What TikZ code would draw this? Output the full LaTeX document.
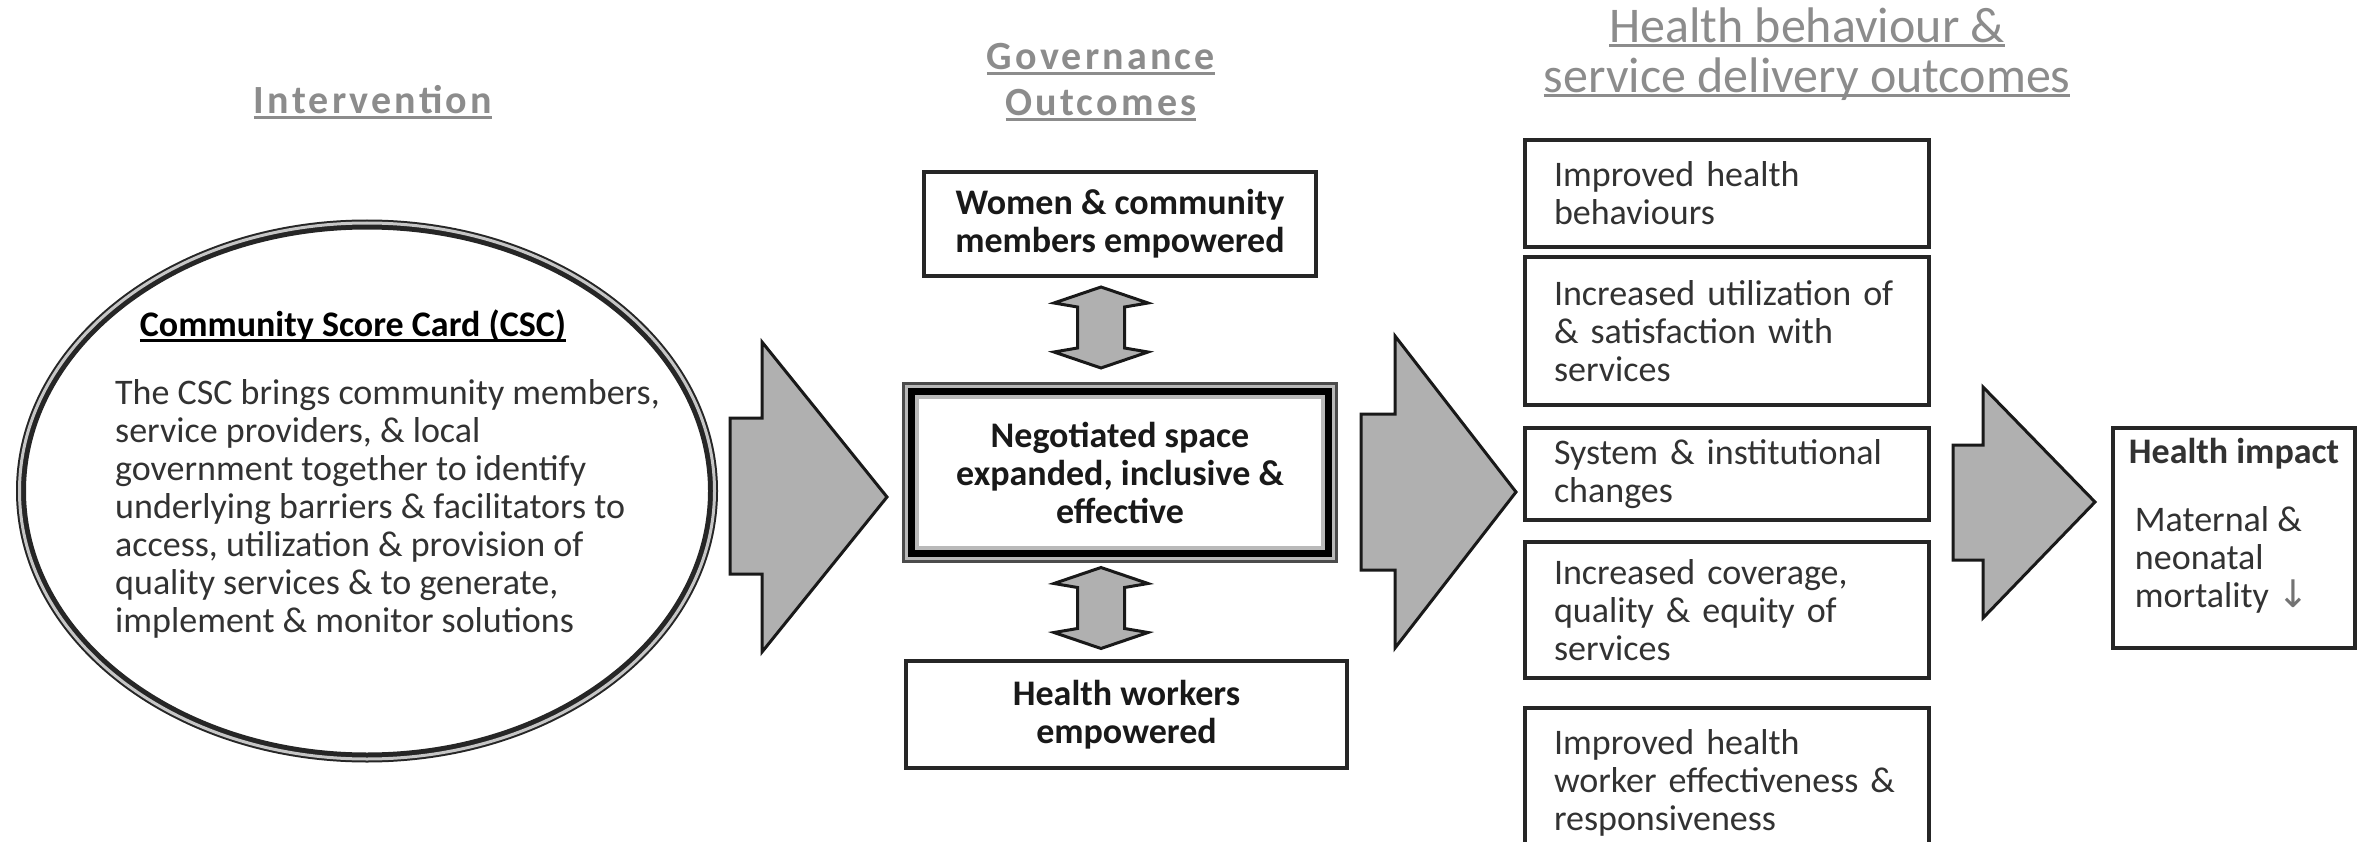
\documentclass[tikz,border=0pt]{standalone}
\usepackage{fontspec}
\setmainfont{Carlito}
\newfontfamily\arrowfont{DejaVu Sans}
\usetikzlibrary{shapes.geometric, positioning}
\definecolor{headgray}{RGB}{140,140,140}
\definecolor{arrowfill}{RGB}{176,176,176}
\definecolor{inkdark}{RGB}{50,50,50}
% underline drawn as a rule a few points under the baseline
\newcommand{\ulbar}[2][3pt]{\setbox0\hbox{#2}\rlap{\rule[-5pt]{\wd0}{#1}}\box0}

\begin{document}
\begin{tikzpicture}[
  x=1pt, y=-1pt,
  head/.style={font=\fontsize{40}{46}\selectfont\bfseries\addfontfeature{LetterSpace=8},
               text=headgray, align=center, inner sep=0pt},
  headwide/.style={font=\fontsize{50}{50}\selectfont,
                   text=headgray, align=center, inner sep=0pt},
  box/.style={rectangle, draw=black!85, line width=4pt, outer sep=0pt, fill=white,
              font=\fontsize{36}{38}\selectfont, text=inkdark},
  govbox/.style={box, font=\fontsize{36}{38}\selectfont\bfseries, align=center, text=black!90},
  hbox/.style={box, minimum width=404pt, inner xsep=29pt, text width=346pt, align=left},
  blockarr/.style={draw=black!90, line width=3pt, fill=arrowfill, line join=miter},
  updown/.pic={
    \draw[blockarr] (0,-40.5) -- (47,-24.5) -- (23.5,-20.5) -- (23.5,20.5) -- (47,24.5)
      -- (0,40.5) -- (-47,24.5) -- (-23.5,20.5) -- (-23.5,-20.5) -- (-47,-24.5) -- cycle;
  },
]
  \useasboundingbox (0,0) rectangle (2374,842);

  % column headings
  \node[head] (intervention) at (373,102) {\ulbar{Intervention}};
  \node[head] (governance) at (1101,82) {\ulbar{Governance}\\\ulbar{Outcomes}};
  \node[headwide] (behaviour) at (1807,54)
    {\ulbar{Health behaviour \&}\\\ulbar{service delivery outcomes}};

  % intervention ellipse
  \node[ellipse, draw=black!85, line width=10pt, minimum width=692pt, minimum height=533pt,
        inner sep=0pt] (csc) at (367,491) {};
  \draw[gray!45, line width=3pt] (csc.center) ellipse [x radius=347.5pt, y radius=268pt];
  \node[font=\fontsize{36}{38}\selectfont\bfseries, text=black, inner sep=0pt]
    (csctitle) at (353,326) {\ulbar[2.5pt]{Community Score Card (CSC)}};
  \node[anchor=west, align=left, font=\fontsize{36}{38}\selectfont, text=inkdark, inner sep=0pt]
    (cscbody) at (115,509)
    {The CSC brings community members,\\
     service providers, \& local\\
     government together to identify\\
     underlying barriers \& facilitators to\\
     access, utilization \& provision of\\
     quality services \& to generate,\\
     implement \& monitor solutions};

  % governance outcomes
  \node[govbox, minimum width=392pt, minimum height=104pt] (women) at (1120,224)
    {Women \& community\\members empowered};
  \node[govbox, draw=gray!55, line width=17pt, minimum width=419pt, minimum height=164pt,
        below=114.5pt of women] (negotiated)
    {Negotiated space\\expanded, inclusive \&\\effective};
  \draw[black!70, line width=3pt] ([xshift=-7pt,yshift=7pt]negotiated.north west)
    rectangle ([xshift=7pt,yshift=-7pt]negotiated.south east);
  \draw[black, line width=7pt] ([xshift=1pt,yshift=-1pt]negotiated.north west)
    rectangle ([xshift=-1pt,yshift=1pt]negotiated.south east);
  \node[govbox, minimum width=441pt, minimum height=107pt, below=106.5pt of negotiated,
        xshift=6.5pt] (hw) {Health workers\\empowered};

  \pic at (1101,327.5) {updown};
  \pic at (1101,608) {updown};

  % health behaviour and service delivery outcomes
  \node[hbox, minimum height=107pt] (hb1) at (1727,193.5) {Improved health\\behaviours};
  \node[hbox, minimum height=148pt, below=10pt of hb1] (hb2)
    {Increased utilization of\\\& satisfaction with\\services};
  \node[hbox, minimum height=92pt, below=23pt of hb2] (hb3) {System \& institutional\\changes};
  \node[hbox, minimum height=136pt, below=22pt of hb3] (hb4)
    {Increased coverage,\\quality \& equity of\\services};
  \node[hbox, minimum height=150pt, below=30pt of hb4] (hb5)
    {Improved health\\worker effectiveness \&\\responsiveness};

  % health impact
  \node[box, minimum width=242pt, minimum height=220pt, align=left] (impact) at (2234,538)
    {\textbf{Health impact}\\[30pt]
     \hspace{6pt}Maternal \&\\
     \hspace{6pt}neonatal\\
     \hspace{6pt}mortality {\arrowfont\fontsize{38}{38}\selectfont\color{black!55}↓}\\[-8pt]};

  % block arrows between the columns
  \draw[blockarr] (730,418) -- (762,418) -- (762,342) -- (887,497) -- (762,652)
    -- (762,574) -- (730,574) -- cycle;
  \draw[blockarr] (1361,414) -- (1395,414) -- (1395,336) -- (1516,492) -- (1395,648)
    -- (1395,570) -- (1361,570) -- cycle;
  \draw[blockarr] (1953,445) -- (1983,445) -- (1983,387) -- (2095,502) -- (1983,618)
    -- (1983,560) -- (1953,560) -- cycle;
\end{tikzpicture}
\end{document}
